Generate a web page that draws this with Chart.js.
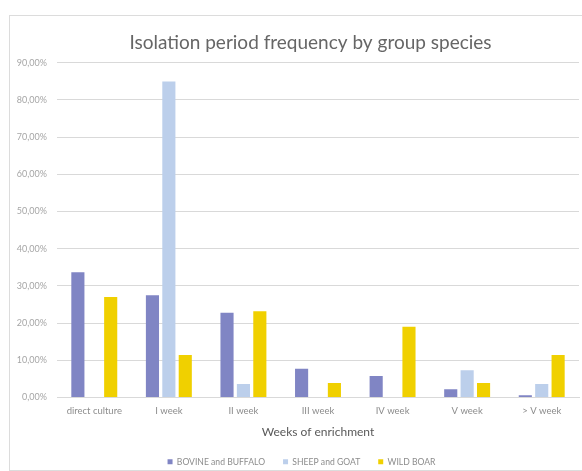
<!DOCTYPE html>
<html>
<head>
<meta charset="utf-8">
<script src="https://cdn.jsdelivr.net/npm/chart.js@4"></script>
<style>
html,body{margin:0;padding:0;background:#fff;}
#wrap{position:relative;width:582px;height:471px;}
</style>
</head>
<body>
<div id="wrap"><canvas id="c" width="582" height="471"></canvas></div>
<script>
const categories = ["direct culture", "I week", "II week", "III week", "IV week", "V week", "> V week"];
const bovineBuffalo = [33.7, 27.5, 22.8, 7.7, 5.8, 2.2, 0.6];
const sheepGoat = [0, 85.0, 3.6, 0, 0, 7.3, 3.6];
const wildBoar = [27.0, 11.4, 23.2, 3.9, 19.0, 3.9, 11.4];
const yTicks = [0, 10, 20, 30, 40, 50, 60, 70, 80, 90];

const framePlugin = {
  id: 'frame',
  afterInit(chart) {
    const lg = chart.legend;
    if (lg) {
      const orig = lg.fit.bind(lg);
      lg.fit = function () { orig(); this.height = 31.5; };
    }
  },
  afterLayout(chart) {
    const t = chart.titleBlock;
    if (t) { t.left += 21; t.right += 21; }
    const lg = chart.legend;
    if (lg) { lg.left += 12; lg.right += 12; }
  },
  beforeDraw(chart) {
    const ctx = chart.ctx;
    ctx.save();
    ctx.fillStyle = '#fff';
    ctx.fillRect(0, 0, chart.width, chart.height);
    ctx.strokeStyle = '#dcdcdc';
    ctx.lineWidth = 1;
    ctx.strokeRect(9.5, 15.5, 600, 455);
    ctx.restore();
  }
};

new Chart(document.getElementById('c'), {
  type: 'bar',
  data: {
    labels: categories,
    datasets: [
      { label: 'BOVINE and BUFFALO', data: bovineBuffalo, backgroundColor: '#8085c4' },
      { label: 'SHEEP and GOAT', data: sheepGoat, backgroundColor: '#bccfeb' },
      { label: 'WILD BOAR', data: wildBoar, backgroundColor: '#f0d000' }
    ]
  },
  plugins: [framePlugin],
  options: {
    responsive: false,
    animation: false,
    devicePixelRatio: 1,
    layout: { padding: { left: 0, right: 3, top: 0, bottom: 0 } },
    datasets: { bar: { categoryPercentage: 0.66, barPercentage: 0.8 } },
    plugins: {
      title: {
        display: true,
        text: 'Isolation period frequency by group species',
        color: '#666666',
        font: { family: 'Lato', size: 19, weight: 'normal' },
        padding: { top: 31, bottom: 9 }
      },
      legend: {
        position: 'bottom',
        labels: {
          color: '#8c8c8c',
          font: { family: 'Lato', size: 8.6 },
          boxWidth: 5, boxHeight: 5,
          padding: 18
        }
      },
      tooltip: { enabled: false }
    },
    scales: {
      x: {
        afterFit(s) { s.height = 42; },
        grid: { display: false },
        border: { color: '#d9d9d9' },
        ticks: { color: '#8c8c8c', font: { family: 'Lato', size: 9.5 }, padding: 0, maxRotation: 0 },
        title: { display: true, text: 'Weeks of enrichment', color: '#595959', font: { family: 'Lato', size: 12 }, padding: { top: 4, bottom: 0 } }
      },
      y: {
        min: 0, max: 90,
        afterFit(s) { s.width = 57; },
        afterBuildTicks(s) { s.ticks = yTicks.map(v => ({ value: v })); },
        grid: { color: '#d9d9d9', drawTicks: false },
        border: { display: false },
        ticks: {
          color: '#a6a6a6',
          font: { family: 'Lato', size: 9 },
          padding: 10,
          callback: v => v.toFixed(2).replace('.', ',') + '%'
        }
      }
    }
  }
});
</script>
</body>
</html>
